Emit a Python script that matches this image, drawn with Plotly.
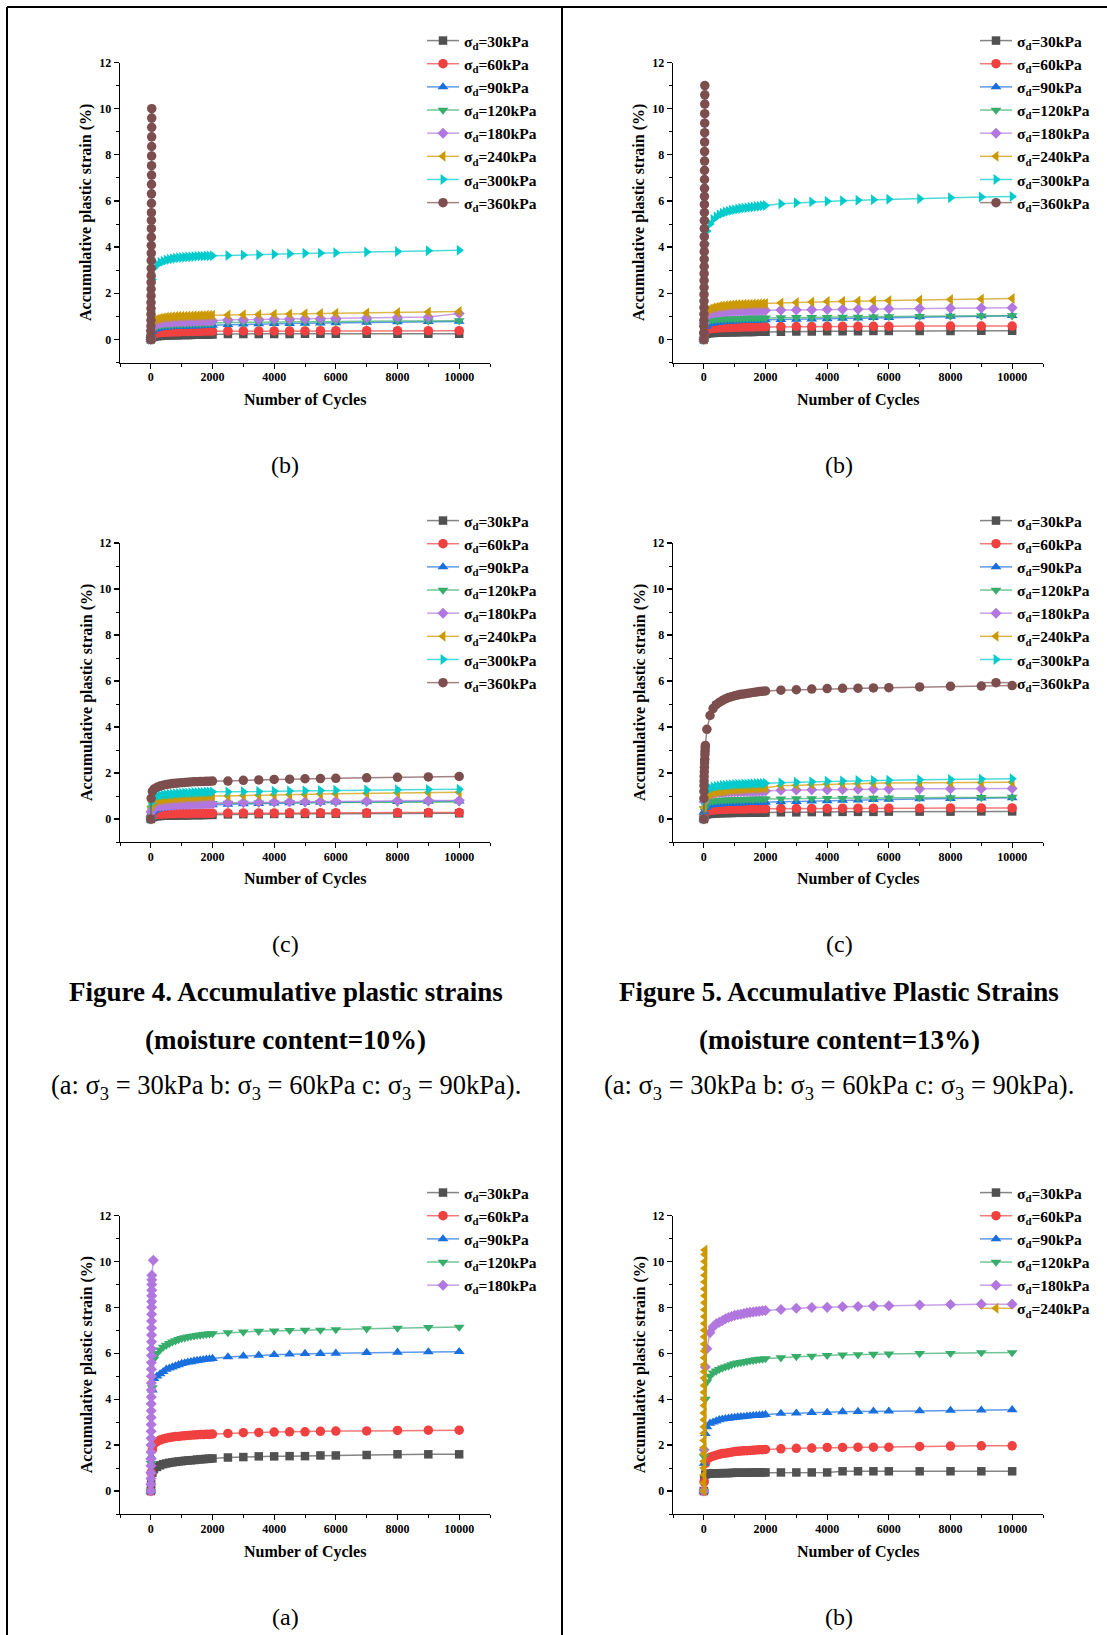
import plotly.graph_objects as go

W, H = 1107, 1635

# ---------------- data ----------------
CYCLES = [0, 10, 50, 100, 200, 300, 400, 500, 600, 700, 800, 900, 1000, 1100, 1200,
          1300, 1400, 1500, 1600, 1700, 1800, 1900, 2000, 2500, 3000, 3500, 4000,
          4500, 5000, 5500, 6000, 7000, 8000, 9000, 10000]
X_TICKS = [0, 2000, 4000, 6000, 8000, 10000]
Y_TICKS = [0, 2, 4, 6, 8, 10, 12]

# Figure 4(b)  (top-left)
A_30 = [0, 0.05, 0.1, 0.12, 0.14, 0.15, 0.16, 0.17, 0.17, 0.18, 0.18, 0.18, 0.19, 0.19, 0.19,
        0.19, 0.2, 0.2, 0.2, 0.2, 0.2, 0.21, 0.21, 0.24, 0.24, 0.24, 0.24, 0.24, 0.25, 0.25,
        0.25, 0.25, 0.25, 0.25, 0.25]
A_60 = [0, 0.1, 0.2, 0.24, 0.27, 0.29, 0.3, 0.31, 0.32, 0.32, 0.33, 0.33, 0.34, 0.34, 0.34,
        0.35, 0.35, 0.35, 0.35, 0.36, 0.36, 0.36, 0.36, 0.37, 0.37, 0.37, 0.37, 0.37, 0.37, 0.38,
        0.38, 0.38, 0.38, 0.38, 0.38]
A_90 = [0, 0.2, 0.35, 0.42, 0.47, 0.5, 0.52, 0.53, 0.54, 0.55, 0.56, 0.56, 0.57, 0.57, 0.58,
        0.58, 0.59, 0.59, 0.59, 0.6, 0.6, 0.6, 0.61, 0.64, 0.66, 0.67, 0.68, 0.69, 0.7, 0.71,
        0.72, 0.74, 0.76, 0.77, 0.78]
A_120 = [0, 0.3, 0.45, 0.52, 0.57, 0.6, 0.62, 0.63, 0.64, 0.65, 0.66, 0.66, 0.67, 0.67, 0.68,
         0.68, 0.69, 0.69, 0.69, 0.7, 0.7, 0.7, 0.71, 0.73, 0.74, 0.75, 0.76, 0.76, 0.77, 0.77,
         0.78, 0.79, 0.8, 0.8, 0.81]
A_180 = [0, 0.4, 0.55, 0.62, 0.67, 0.7, 0.72, 0.73, 0.74, 0.75, 0.76, 0.76, 0.77, 0.77, 0.78,
         0.78, 0.79, 0.79, 0.79, 0.8, 0.8, 0.8, 0.81, 0.85, 0.86, 0.87, 0.88, 0.89, 0.9, 0.91,
         0.92, 0.94, 0.96, 0.97, 1.12]
A_240 = [0, 0.55, 0.75, 0.82, 0.88, 0.92, 0.94, 0.96, 0.97, 0.98, 0.99, 1.0, 1.0, 1.01, 1.02,
         1.02, 1.03, 1.03, 1.04, 1.04, 1.05, 1.05, 1.05, 1.06, 1.07, 1.08, 1.09, 1.1, 1.11, 1.12,
         1.13, 1.15, 1.17, 1.19, 1.21]
A_300 = [0, 1.2, 2.6, 3.1, 3.25, 3.33, 3.39, 3.44, 3.47, 3.5, 3.52, 3.54, 3.55, 3.56, 3.57,
         3.58, 3.59, 3.6, 3.61, 3.61, 3.62, 3.62, 3.63, 3.64, 3.66, 3.67, 3.69, 3.71, 3.73, 3.74,
         3.76, 3.79, 3.81, 3.84, 3.86]
A_360_X = [0, 1, 2, 3, 4, 5, 6, 7, 8, 9, 10, 11, 12, 13, 14, 15, 16, 17, 18, 19, 20, 21, 22,
           23, 24, 25, 26, 27, 28, 29, 30]
A_360 = [0, 0.15, 0.36, 0.58, 0.83, 1.09, 1.34, 1.6, 1.89, 2.18, 2.47, 2.76, 3.08, 3.42, 3.74,
         4.07, 4.43, 4.8, 5.16, 5.49, 5.9, 6.31, 6.72, 7.12, 7.53, 7.95, 8.36, 8.78, 9.19, 9.59,
         10.0]

# Figure 5(b)  (top-right)
B_30 = [0, 0.15, 0.22, 0.25, 0.27, 0.28, 0.29, 0.3, 0.3, 0.3, 0.31, 0.31, 0.31, 0.31, 0.32,
        0.32, 0.32, 0.32, 0.32, 0.33, 0.33, 0.33, 0.33, 0.33, 0.34, 0.34, 0.35, 0.35, 0.35, 0.36,
        0.36, 0.37, 0.37, 0.38, 0.38]
B_60 = [0, 0.25, 0.38, 0.43, 0.46, 0.48, 0.49, 0.5, 0.51, 0.51, 0.52, 0.52, 0.53, 0.53, 0.53,
        0.54, 0.54, 0.54, 0.54, 0.55, 0.55, 0.55, 0.55, 0.56, 0.56, 0.56, 0.57, 0.57, 0.57, 0.57,
        0.57, 0.58, 0.58, 0.58, 0.58]
B_90 = [0, 0.35, 0.55, 0.62, 0.68, 0.71, 0.73, 0.75, 0.76, 0.77, 0.78, 0.79, 0.8, 0.8, 0.81,
        0.81, 0.82, 0.82, 0.83, 0.83, 0.84, 0.84, 0.85, 0.86, 0.87, 0.88, 0.89, 0.91, 0.92, 0.94,
        0.95, 0.98, 1.0, 1.02, 1.03]
B_120 = [0, 0.5, 0.7, 0.78, 0.83, 0.85, 0.87, 0.88, 0.89, 0.9, 0.9, 0.91, 0.91, 0.91, 0.92,
         0.92, 0.92, 0.93, 0.93, 0.93, 0.93, 0.93, 0.93, 0.94, 0.95, 0.95, 0.96, 0.97, 0.97, 0.98,
         0.99, 1.0, 1.01, 1.02, 1.03]
B_180 = [0, 0.7, 0.95, 1.03, 1.1, 1.14, 1.16, 1.18, 1.19, 1.2, 1.21, 1.21, 1.22, 1.22, 1.23,
         1.23, 1.24, 1.24, 1.24, 1.25, 1.25, 1.25, 1.26, 1.27, 1.28, 1.29, 1.3, 1.31, 1.31, 1.32,
         1.33, 1.34, 1.35, 1.36, 1.37]
B_240 = [0, 0.9, 1.15, 1.24, 1.32, 1.37, 1.4, 1.43, 1.45, 1.46, 1.48, 1.49, 1.5, 1.51, 1.51,
         1.52, 1.53, 1.53, 1.54, 1.54, 1.55, 1.55, 1.56, 1.58, 1.6, 1.62, 1.64, 1.65, 1.67, 1.68,
         1.69, 1.71, 1.73, 1.75, 1.77]
B_300 = [0, 3.4, 4.15, 4.7, 5.0, 5.2, 5.32, 5.4, 5.47, 5.52, 5.56, 5.6, 5.62, 5.65, 5.67,
         5.69, 5.71, 5.73, 5.74, 5.76, 5.77, 5.79, 5.8, 5.88, 5.92, 5.96, 5.99, 6.01, 6.03, 6.05,
         6.07, 6.1, 6.14, 6.17, 6.19]
B_360_X = [0, 1, 2, 3, 4, 5, 6, 7, 8, 9, 10, 11, 12, 13, 14, 15, 16, 17, 18, 19, 20, 21, 22,
           23, 24, 25, 26, 27, 28, 29, 30, 31, 32]
B_360 = [0, 0.3, 0.57, 0.83, 1.1, 1.38, 1.66, 1.95, 2.25, 2.55, 2.85, 3.16, 3.48, 3.8, 4.12,
         4.45, 4.8, 5.15, 5.5, 5.85, 6.2, 6.55, 6.93, 7.33, 7.73, 8.14, 8.55, 8.96, 9.37, 9.78,
         10.2, 10.6, 11.0]

# Figure 4(c)  (middle-left)
C_30 = [0, 0.05, 0.08, 0.1, 0.12, 0.13, 0.14, 0.14, 0.15, 0.15, 0.15, 0.16, 0.16, 0.16, 0.16,
        0.17, 0.17, 0.17, 0.17, 0.17, 0.18, 0.18, 0.18, 0.2, 0.21, 0.21, 0.22, 0.22, 0.22, 0.23,
        0.23, 0.24, 0.24, 0.25, 0.25]
C_60 = [0, 0.1, 0.15, 0.18, 0.2, 0.21, 0.22, 0.22, 0.23, 0.23, 0.23, 0.24, 0.24, 0.24, 0.24,
        0.24, 0.25, 0.25, 0.25, 0.25, 0.25, 0.25, 0.25, 0.26, 0.26, 0.26, 0.26, 0.27, 0.27, 0.27,
        0.27, 0.27, 0.28, 0.28, 0.28]
C_90 = [0, 0.15, 0.3, 0.36, 0.42, 0.46, 0.48, 0.5, 0.52, 0.53, 0.54, 0.55, 0.56, 0.56, 0.57,
        0.58, 0.58, 0.59, 0.59, 0.6, 0.6, 0.61, 0.61, 0.64, 0.66, 0.67, 0.69, 0.7, 0.71, 0.72,
        0.73, 0.75, 0.76, 0.77, 0.78]
C_120 = [0, 0.25, 0.42, 0.5, 0.55, 0.58, 0.6, 0.61, 0.62, 0.63, 0.64, 0.64, 0.65, 0.65, 0.66,
         0.66, 0.66, 0.67, 0.67, 0.67, 0.67, 0.68, 0.68, 0.69, 0.69, 0.7, 0.7, 0.71, 0.71, 0.72,
         0.72, 0.73, 0.73, 0.74, 0.74]
C_180 = [0, 0.3, 0.44, 0.5, 0.54, 0.56, 0.57, 0.58, 0.59, 0.6, 0.61, 0.61, 0.62, 0.62, 0.63,
         0.63, 0.64, 0.64, 0.64, 0.65, 0.65, 0.65, 0.66, 0.71, 0.72, 0.73, 0.74, 0.75, 0.75, 0.76,
         0.77, 0.78, 0.79, 0.8, 0.8]
C_240 = [0, 0.55, 0.7, 0.75, 0.8, 0.83, 0.85, 0.86, 0.88, 0.89, 0.9, 0.91, 0.92, 0.93, 0.94,
         0.94, 0.95, 0.96, 0.97, 0.98, 0.98, 0.99, 1.0, 1.0, 1.02, 1.03, 1.05, 1.06, 1.07, 1.09,
         1.1, 1.12, 1.14, 1.15, 1.16]
C_300 = [0, 0.7, 0.88, 0.95, 1.0, 1.03, 1.05, 1.06, 1.08, 1.09, 1.1, 1.11, 1.12, 1.13, 1.13,
         1.14, 1.15, 1.15, 1.16, 1.16, 1.17, 1.17, 1.18, 1.18, 1.19, 1.2, 1.21, 1.22, 1.23, 1.24,
         1.25, 1.26, 1.27, 1.28, 1.29]
C_360 = [0, 0.9, 1.2, 1.3, 1.38, 1.43, 1.47, 1.5, 1.52, 1.54, 1.55, 1.57, 1.58, 1.59, 1.6,
         1.61, 1.62, 1.62, 1.63, 1.63, 1.64, 1.64, 1.65, 1.65, 1.68, 1.7, 1.72, 1.73, 1.75, 1.76,
         1.77, 1.79, 1.81, 1.83, 1.85]

# Figure 5(c)  (middle-right)
D_30 = [0, 0.1, 0.17, 0.2, 0.22, 0.23, 0.24, 0.25, 0.25, 0.26, 0.26, 0.26, 0.27, 0.27, 0.27,
        0.27, 0.27, 0.28, 0.28, 0.28, 0.28, 0.28, 0.28, 0.29, 0.29, 0.3, 0.3, 0.31, 0.31, 0.31,
        0.32, 0.32, 0.32, 0.33, 0.33]
D_60 = [0, 0.2, 0.3, 0.34, 0.37, 0.39, 0.4, 0.41, 0.42, 0.42, 0.43, 0.43, 0.43, 0.44, 0.44,
        0.44, 0.44, 0.45, 0.45, 0.45, 0.45, 0.45, 0.45, 0.46, 0.46, 0.46, 0.46, 0.47, 0.47, 0.47,
        0.47, 0.47, 0.48, 0.48, 0.48]
D_90 = [0, 0.3, 0.5, 0.56, 0.6, 0.62, 0.64, 0.65, 0.66, 0.67, 0.68, 0.68, 0.69, 0.69, 0.7,
        0.7, 0.71, 0.71, 0.71, 0.72, 0.72, 0.72, 0.72, 0.75, 0.76, 0.78, 0.79, 0.81, 0.82, 0.84,
        0.85, 0.87, 0.89, 0.91, 0.92]
D_120 = [0, 0.45, 0.65, 0.72, 0.76, 0.78, 0.8, 0.81, 0.82, 0.83, 0.83, 0.84, 0.84, 0.85, 0.85,
         0.85, 0.86, 0.86, 0.86, 0.87, 0.87, 0.87, 0.88, 0.88, 0.89, 0.89, 0.9, 0.9, 0.91, 0.91,
         0.92, 0.93, 0.93, 0.94, 0.95]
D_180 = [0, 0.75, 0.95, 1.02, 1.08, 1.11, 1.13, 1.14, 1.15, 1.16, 1.17, 1.17, 1.18, 1.18, 1.19,
         1.19, 1.2, 1.2, 1.2, 1.21, 1.21, 1.21, 1.22, 1.25, 1.26, 1.27, 1.27, 1.28, 1.29, 1.29,
         1.3, 1.31, 1.32, 1.32, 1.33]
D_240 = [0, 0.5, 0.9, 1.0, 1.08, 1.13, 1.16, 1.19, 1.21, 1.23, 1.25, 1.26, 1.27, 1.28, 1.29,
         1.3, 1.31, 1.32, 1.33, 1.33, 1.34, 1.35, 1.36, 1.45, 1.47, 1.5, 1.52, 1.53, 1.54, 1.55,
         1.56, 1.57, 1.58, 1.59, 1.6]
D_300 = [0, 0.8, 1.15, 1.28, 1.35, 1.39, 1.42, 1.44, 1.46, 1.47, 1.48, 1.49, 1.5, 1.51, 1.51,
         1.52, 1.52, 1.53, 1.53, 1.54, 1.54, 1.55, 1.55, 1.58, 1.6, 1.62, 1.64, 1.65, 1.67, 1.68,
         1.69, 1.71, 1.72, 1.74, 1.75]
D_360_X = [0, 2, 4, 6, 8, 10, 15, 20, 25, 30, 35, 40, 45, 50, 100, 200, 300, 400, 500, 600,
           700, 800, 900, 1000, 1100, 1200, 1300, 1400, 1500, 1600, 1700, 1800, 1900, 2000,
           2500, 3000, 3500, 4000, 4500, 5000, 5500, 6000, 7000, 8000, 9000, 10000]
D_360 = [0, 0.9, 1.2, 1.45, 1.65, 1.85, 2.05, 2.25, 2.45, 2.6, 2.8, 2.95, 3.1, 3.2, 3.9, 4.5,
         4.8, 4.97, 5.07, 5.15, 5.22, 5.28, 5.32, 5.36, 5.39, 5.42, 5.44, 5.46, 5.48, 5.5, 5.52,
         5.54, 5.55, 5.57, 5.6, 5.62, 5.65, 5.67, 5.68, 5.69, 5.7, 5.71, 5.74, 5.77, 5.78, 5.8]

# Figure 6(a)  (bottom-left)
E_30 = [0, 0.3, 0.8, 0.95, 1.05, 1.12, 1.17, 1.2, 1.23, 1.25, 1.27, 1.29, 1.3, 1.32, 1.33,
        1.34, 1.35, 1.37, 1.38, 1.39, 1.4, 1.41, 1.42, 1.46, 1.48, 1.51, 1.51, 1.52, 1.52, 1.55,
        1.55, 1.57, 1.6, 1.6, 1.6]
E_60 = [0, 0.8, 1.8, 2.05, 2.15, 2.22, 2.27, 2.3, 2.33, 2.35, 2.37, 2.38, 2.4, 2.41, 2.42,
        2.43, 2.44, 2.45, 2.46, 2.46, 2.47, 2.47, 2.48, 2.51, 2.54, 2.55, 2.57, 2.58, 2.58, 2.6,
        2.61, 2.62, 2.64, 2.65, 2.65]
E_90 = [0, 1.5, 4.4, 4.9, 5.0, 5.1, 5.2, 5.3, 5.35, 5.4, 5.45, 5.5, 5.55, 5.58, 5.61,
        5.63, 5.66, 5.68, 5.7, 5.72, 5.74, 5.75, 5.77, 5.84, 5.88, 5.91, 5.94, 5.96, 5.99, 5.99,
        6.0, 6.03, 6.04, 6.06, 6.07]
E_120 = [0, 1.2, 4.5, 5.75, 6.0, 6.15, 6.27, 6.35, 6.43, 6.5, 6.55, 6.6, 6.65, 6.68, 6.71,
         6.74, 6.76, 6.78, 6.8, 6.82, 6.83, 6.85, 6.86, 6.9, 6.93, 6.96, 6.97, 7.0, 7.01, 7.01,
         7.03, 7.07, 7.1, 7.13, 7.14]
E_180_X = [0, 1, 2, 3, 4, 5, 6, 7, 8, 9, 10, 11, 12, 13, 14, 15, 16, 17, 18, 19, 20, 21, 22,
           23, 24, 25, 26, 27, 28, 29, 30, 31, 32, 33, 80]
E_180 = [0, 0.3, 0.55, 0.8, 1.1, 1.4, 1.7, 2.0, 2.3, 2.6, 2.9, 3.2, 3.5, 3.8, 4.1, 4.4, 4.7,
         5.0, 5.3, 5.6, 5.9, 6.2, 6.5, 6.8, 7.1, 7.4, 7.7, 8.0, 8.25, 8.5, 8.75, 9.0, 9.2, 9.4,
         10.05]

# Figure 6(b)  (bottom-right)
F_30 = [0, 0.5, 0.72, 0.75, 0.76, 0.77, 0.77, 0.77, 0.78, 0.78, 0.78, 0.79, 0.8, 0.8, 0.8,
        0.8, 0.8, 0.8, 0.81, 0.81, 0.81, 0.81, 0.81, 0.81, 0.81, 0.81, 0.81, 0.86, 0.86, 0.86,
        0.86, 0.86, 0.86, 0.86, 0.86]
F_60 = [0, 0.4, 1.2, 1.38, 1.47, 1.52, 1.56, 1.6, 1.63, 1.65, 1.67, 1.69, 1.72, 1.73, 1.74,
        1.75, 1.76, 1.77, 1.78, 1.79, 1.8, 1.8, 1.81, 1.84, 1.86, 1.87, 1.9, 1.9, 1.91, 1.91,
        1.91, 1.94, 1.96, 1.97, 1.97]
F_90 = [0, 1.2, 2.5, 2.8, 2.95, 3.0, 3.05, 3.1, 3.13, 3.15, 3.17, 3.19, 3.2, 3.22, 3.23,
        3.24, 3.26, 3.27, 3.28, 3.29, 3.3, 3.31, 3.33, 3.38, 3.39, 3.42, 3.42, 3.45, 3.46, 3.48,
        3.48, 3.49, 3.51, 3.52, 3.54]
F_120 = [0, 1.5, 4.0, 4.75, 5.0, 5.15, 5.23, 5.3, 5.36, 5.41, 5.45, 5.5, 5.55, 5.58, 5.6,
         5.63, 5.65, 5.68, 5.7, 5.72, 5.74, 5.75, 5.77, 5.81, 5.86, 5.88, 5.91, 5.93, 5.94, 5.96,
         5.97, 5.99, 6.0, 6.03, 6.03]
F_180 = [0, 1.8, 5.4, 6.2, 6.9, 7.15, 7.28, 7.35, 7.42, 7.5, 7.56, 7.6, 7.65, 7.68, 7.7,
         7.73, 7.76, 7.78, 7.8, 7.82, 7.83, 7.85, 7.86, 7.91, 7.96, 7.99, 8.0, 8.03, 8.04, 8.06,
         8.07, 8.1, 8.12, 8.14, 8.14]
F_240_X = [0, 1, 2, 3, 4, 5, 6, 7, 8, 9, 10, 11, 12, 13, 14, 15, 16, 17, 18, 19, 20, 21, 22,
           23, 24, 25, 26, 27, 28, 29, 30, 31, 32, 33, 34, 35]
F_240 = [0, 0.35, 0.7, 1.0, 1.3, 1.62, 1.9, 2.2, 2.52, 2.8, 3.1, 3.4, 3.72, 4.0, 4.3, 4.6,
         4.92, 5.2, 5.5, 5.8, 6.1, 6.4, 6.72, 7.0, 7.3, 7.6, 7.9, 8.2, 8.5, 8.8, 9.1, 9.4, 9.7,
         10.0, 10.3, 10.5]

# ---------------- styling ----------------
STYLE = {
    "30": ("#515151", "square", 8.5),
    "60": ("#F14040", "circle", 9.5),
    "90": ("#1A6FDF", "triangle-up", 9.5),
    "120": ("#37AD6B", "triangle-down", 9.5),
    "180": ("#B177DE", "diamond", 8.5),
    "240": ("#CC9900", "triangle-left", 9.5),
    "300": ("#00CBCC", "triangle-right", 9.5),
    "360": ("#7D4E4E", "circle", 9.5),
}

def rgba(hexc, a):
    h = hexc.lstrip("#")
    return "rgba(%d,%d,%d,%.2f)" % (int(h[0:2], 16), int(h[2:4], 16), int(h[4:6], 16), a)

COLS = {"L": (120, 490), "R": (673, 1043)}
ROWS = {"T": (62.5, 362.5), "M": (543, 842), "B": (1215.5, 1514)}
LEG_X = {"L": 422, "R": 975}
LEG_Y = {"T": 24, "M": 504, "B": 1176}

PANELS = [
    ("", "L", "T", [("30", CYCLES, A_30), ("60", CYCLES, A_60), ("90", CYCLES, A_90),
                    ("120", CYCLES, A_120), ("180", CYCLES, A_180), ("240", CYCLES, A_240),
                    ("300", CYCLES, A_300), ("360", A_360_X, A_360)]),
    ("2", "R", "T", [("30", CYCLES, B_30), ("60", CYCLES, B_60), ("90", CYCLES, B_90),
                     ("120", CYCLES, B_120), ("180", CYCLES, B_180), ("240", CYCLES, B_240),
                     ("300", CYCLES, B_300), ("360", B_360_X, B_360)]),
    ("3", "L", "M", [("30", CYCLES, C_30), ("60", CYCLES, C_60), ("90", CYCLES, C_90),
                     ("120", CYCLES, C_120), ("180", CYCLES, C_180), ("240", CYCLES, C_240),
                     ("300", CYCLES, C_300), ("360", CYCLES, C_360)]),
    ("4", "R", "M", [("30", CYCLES, D_30), ("60", CYCLES, D_60), ("90", CYCLES, D_90),
                     ("120", CYCLES, D_120), ("180", CYCLES, D_180), ("240", CYCLES, D_240),
                     ("300", CYCLES, D_300), ("360", D_360_X, D_360)]),
    ("5", "L", "B", [("30", CYCLES, E_30), ("60", CYCLES, E_60), ("90", CYCLES, E_90),
                     ("120", CYCLES, E_120), ("180", E_180_X, E_180)]),
    ("6", "R", "B", [("30", CYCLES, F_30), ("60", CYCLES, F_60), ("90", CYCLES, F_90),
                     ("120", CYCLES, F_120), ("180", CYCLES, F_180), ("240", F_240_X, F_240)]),
]

SERIF = "Liberation Serif"
fig = go.Figure()
layout = dict(
    width=W, height=H, autosize=False,
    margin=dict(l=0, r=0, t=0, b=0, pad=0, autoexpand=False),
    paper_bgcolor="white", plot_bgcolor="white", showlegend=True,
    font=dict(family=SERIF, color="black"),
)
annotations = []
shapes = []

def fx(p):
    return p / W

def fy(p):
    return 1 - p / H

TICKFONT = dict(family=SERIF, size=12, weight="bold", color="black")
TITLEFONT = dict(family=SERIF, size=16, weight="bold", color="black")

for sid, col, row, series in PANELS:
    x0, x1 = COLS[col]
    y0, y1 = ROWS[row]
    legname = "legend" + sid
    for lvl, xs, ys in series:
        c, sym, sz = STYLE[lvl]
        fig.add_trace(go.Scatter(
            x=xs, y=ys, mode="lines+markers",
            name="σ<sub>d</sub>=%skPa" % lvl,
            line=dict(color=rgba(c, 0.7), width=1.5),
            marker=dict(color=c, symbol=sym, size=sz, line=dict(width=0)),
            xaxis="x" + sid, yaxis="y" + sid, legend=legname,
        ))
    layout["xaxis" + sid] = dict(
        domain=[fx(x0), fx(x1)], anchor="y" + sid, range=[-1000, 11000],
        tickmode="array", tickvals=X_TICKS, tickformat="d",
        showline=True, linecolor="black", linewidth=1.3,
        ticks="outside", ticklen=5, tickwidth=1.3, tickcolor="black",
        ticklabelstandoff=-2, automargin=False,
        minor=dict(ticks="outside", ticklen=3, tickwidth=1, tickcolor="black",
                   tickmode="linear", tick0=0, dtick=1000),
        showgrid=False, zeroline=False, fixedrange=True, tickfont=TICKFONT,
    )
    layout["yaxis" + sid] = dict(
        domain=[fy(y1), fy(y0)], anchor="x" + sid, range=[-1, 12],
        tickmode="array", tickvals=Y_TICKS, automargin=False,
        showline=True, linecolor="black", linewidth=1.3,
        ticks="outside", ticklen=5, tickwidth=1.3, tickcolor="black",
        minor=dict(ticks="outside", ticklen=3, tickwidth=1, tickcolor="black",
                   tickmode="linear", tick0=0, dtick=1),
        showgrid=False, zeroline=False, fixedrange=True, tickfont=TICKFONT,
    )
    layout[legname] = dict(
        x=fx(LEG_X[col]), y=fy(LEG_Y[row]), xanchor="left", yanchor="top",
        bgcolor="rgba(0,0,0,0)", borderwidth=0, itemwidth=32, tracegroupgap=0,
        font=dict(family=SERIF, size=15.5, weight="bold", color="black"),
    )
    annotations.append(dict(
        text="Accumulative plastic strain (%)", xref="paper", yref="paper",
        x=fx(x0 - 33.5), y=fy((y0 + y1) / 2), textangle=-90, showarrow=False,
        xanchor="center", yanchor="middle", font=TITLEFONT))
    annotations.append(dict(
        text="Number of Cycles", xref="paper", yref="paper",
        x=fx((x0 + x1) / 2), y=fy(y1 + 37.5), showarrow=False,
        xanchor="center", yanchor="middle", font=TITLEFONT))

PANEL_LABELS = [("(b)", 285, 465), ("(b)", 839, 465), ("(c)", 285, 944),
                ("(c)", 839, 944), ("(a)", 285, 1617), ("(b)", 839, 1617)]
for t, px, py in PANEL_LABELS:
    annotations.append(dict(text=t, xref="paper", yref="paper", x=fx(px), y=fy(py),
                            showarrow=False, xanchor="center", yanchor="middle",
                            font=dict(family=SERIF, size=24, color="black")))

CAPTIONS = [
    ("Figure 4. Accumulative plastic strains", 285.5, 992, "bold", 27),
    ("(moisture content=10%)", 285.5, 1040, "bold", 27),
    ("(a: σ<sub>3</sub> = 30kPa b: σ<sub>3</sub> = 60kPa c: σ<sub>3</sub> = 90kPa).", 285.5, 1087, "normal", 26.5),
    ("Figure 5. Accumulative Plastic Strains", 839, 992, "bold", 27),
    ("(moisture content=13%)", 839, 1040, "bold", 27),
    ("(a: σ<sub>3</sub> = 30kPa b: σ<sub>3</sub> = 60kPa c: σ<sub>3</sub> = 90kPa).", 839, 1087, "normal", 26.5),
]
for t, px, py, wgt, fs in CAPTIONS:
    annotations.append(dict(text=t, xref="paper", yref="paper", x=fx(px), y=fy(py),
                            showarrow=False, xanchor="center", yanchor="middle",
                            font=dict(family=SERIF, size=fs, weight=wgt, color="black")))

for (xa, ya, xb, yb) in [(7, 7, W, 7), (7, 7, 7, H), (562, 7, 562, H)]:
    shapes.append(dict(type="line", xref="paper", yref="paper",
                       x0=fx(xa), y0=fy(ya), x1=fx(xb), y1=fy(yb),
                       line=dict(color="black", width=2)))

layout["annotations"] = annotations
layout["shapes"] = shapes
fig.update_layout(**layout)

fig.write_html("out.html", config={"displayModeBar": False, "staticPlot": True},
               post_script="document.body.style.margin='0';document.body.style.overflow='hidden';")
